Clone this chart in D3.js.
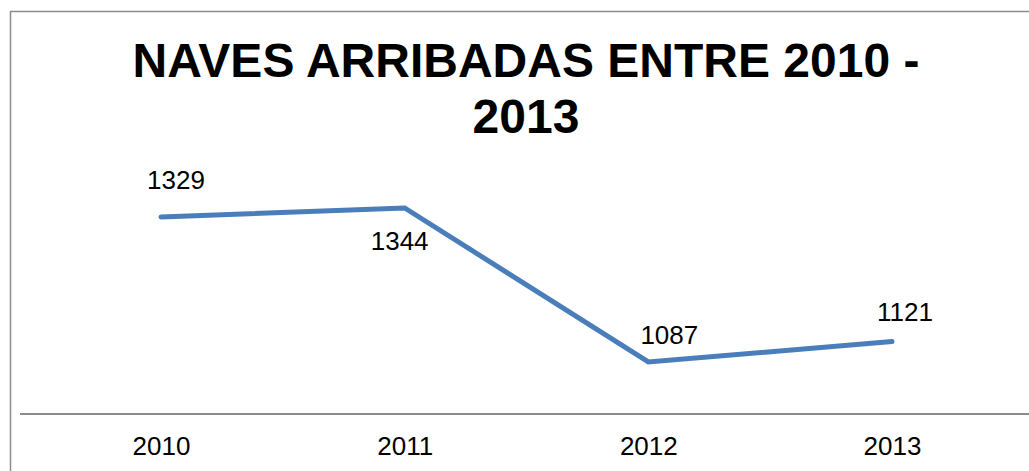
<!DOCTYPE html>
<html>
<head>
<meta charset="utf-8">
<script src="https://cdn.jsdelivr.net/npm/d3@7"></script>
<style>
  html, body { margin: 0; padding: 0; background: #fff; }
  svg { display: block; }
</style>
</head>
<body>
<svg id="chart" width="1029" height="471"></svg>
<script>
const categories = ["2010", "2011", "2012", "2013"];
const values = [1329, 1344, 1087, 1121];
const titleLines = ["NAVES ARRIBADAS ENTRE 2010 -", "2013"];
// label placement offsets (styling only)
const labelOffsets = [[15, -28], [-5, 42], [21, -18], [13, -21]];

const W = 1029, H = 471;
const svg = d3.select("#chart");
const font = "Arial, 'Liberation Sans', sans-serif";

// chart border
svg.append("rect")
  .attr("x", 10.5).attr("y", 11.5)
  .attr("width", W + 20).attr("height", H + 20)
  .attr("fill", "#fff").attr("stroke", "#8c8c8c").attr("stroke-width", 1.5);

// title
const title = svg.append("text")
  .attr("text-anchor", "middle")
  .attr("font-family", font).attr("font-weight", "bold")
  .attr("font-size", 48).attr("fill", "#000");
titleLines.forEach((t, i) => {
  title.append("tspan").attr("x", 526).attr("y", 77 + i * 56).text(t);
});

const x = d3.scalePoint().domain(categories).range([161, 892]);
const y = d3.scaleLinear().domain([1000, 1400]).range([414, 174.4]);

// x axis
const xAxis = svg.append("g").attr("transform", `translate(0,${y(1000)})`)
  .call(d3.axisBottom(x).tickSize(0).tickPadding(23));
xAxis.select(".domain").remove();
xAxis.append("line").attr("x1", 20).attr("x2", W + 5).attr("y1", 0).attr("y2", 0)
  .attr("stroke", "#8c8c8c").attr("stroke-width", 2);
xAxis.selectAll(".tick text")
  .attr("font-family", font).attr("font-size", 26).attr("fill", "#000");

// line
const data = categories.map((c, i) => ({ c, v: values[i], i }));
svg.append("path").datum(data)
  .attr("fill", "none").attr("stroke", "#4a7ebb").attr("stroke-width", 5)
  .attr("stroke-linecap", "round").attr("stroke-linejoin", "miter")
  .attr("d", d3.line().x(d => x(d.c)).y(d => y(d.v)));

// data labels
svg.selectAll(".lbl").data(data).enter().append("text")
  .attr("class", "lbl")
  .attr("x", d => x(d.c) + labelOffsets[d.i][0])
  .attr("y", d => y(d.v) + labelOffsets[d.i][1])
  .attr("text-anchor", "middle")
  .attr("font-family", font).attr("font-size", 26).attr("fill", "#000")
  .text(d => d.v);
</script>
</body>
</html>
